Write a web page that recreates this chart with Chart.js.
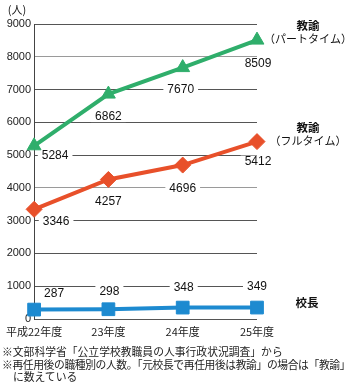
<!DOCTYPE html>
<html lang="ja">
<head>
<meta charset="utf-8">
<script src="https://cdn.jsdelivr.net/npm/chart.js@4/dist/chart.umd.min.js"></script>
<style>
  html, body { margin: 0; padding: 0; background: #fff; }
  #wrap { position: relative; width: 350px; height: 390px; }
  #notes {
    position: absolute; left: 2px; top: 345px; width: 348px;
    font-family: "Noto Sans CJK JP", sans-serif; font-size: 10.8px;
    line-height: 12.5px; color: #222; white-space: nowrap;
  }
  #notes .tight { letter-spacing: -0.4px; }
  #notes .indent { padding-left: 11px; }
</style>
</head>
<body>
<div id="wrap">
  <canvas id="c" width="350" height="390"></canvas>
  <div id="notes">
    <div>※文部科学省「公立学校教職員の人事行政状況調査」から</div>
    <div class="tight">※再任用後の職種別の人数。「元校長で再任用後は教諭」の場合は「教諭」</div>
    <div class="indent">に数えている</div>
  </div>
</div>
<script>
// 年度
const years = ['平成22年度', '23年度', '24年度', '25年度'];
// 教諭（パートタイム）
const partTime = [5284, 6862, 7670, 8509];
// 教諭（フルタイム）
const fullTime = [3346, 4257, 4696, 5412];
// 校長
const principals = [287, 298, 348, 349];
// 縦軸の目盛り
const yTicks = [0, 1000, 2000, 3000, 4000, 5000, 6000, 7000, 8000, 9000];

const LATIN = '"Liberation Sans", Arial, "Noto Sans CJK JP", sans-serif';
const CJK = '"Noto Sans CJK JP", "Liberation Sans", sans-serif';

const GREEN = '#2fae6b';
const ORANGE = '#e8502a';
const BLUE = '#1d8ad0';

// 値ラベルの位置（点からのずれ）と系列名
const labelStyle = [
  { dx: [21, 0, -2, 1], dy: [9, 22, 22, 23], name: ['教諭', '（パートタイム）'] },
  { dx: [22, 0, 0, 1], dy: [12, 22, 23, 20], name: ['教諭', '（フルタイム）'] },
  { dx: [20, 1, 1, 0], dy: [-16, -18, -20, -21], name: ['校長'] }
];

const valueLabels = {
  id: 'valueLabels',
  beforeDatasetsDraw(chart) {
    const ctx = chart.ctx;
    ctx.save();
    ctx.font = '12px ' + LATIN;
    ctx.textAlign = 'center';
    ctx.textBaseline = 'middle';
    chart.data.datasets.forEach((ds, i) => {
      const meta = chart.getDatasetMeta(i);
      const st = labelStyle[i];
      meta.data.forEach((pt, j) => {
        const text = String(ds.data[j]);
        const x = pt.x + st.dx[j];
        const y = pt.y + st.dy[j];
        const w = ctx.measureText(text).width + 8;
        ctx.fillStyle = '#fff';
        ctx.fillRect(x - w / 2, y - 6, w, 12);
        ctx.fillStyle = '#111';
        ctx.fillText(text, x, y + 0.5);
      });
    });
    ctx.restore();
  },
  afterDraw(chart) {
    const ctx = chart.ctx;
    const area = chart.chartArea;
    ctx.save();
    ctx.textAlign = 'center';
    ctx.textBaseline = 'middle';
    ctx.fillStyle = '#111';
    chart.data.datasets.forEach((ds, i) => {
      const meta = chart.getDatasetMeta(i);
      const last = meta.data[meta.data.length - 1];
      const cx = area.right + 51;
      const name = labelStyle[i].name;
      if (name.length === 2) {
        ctx.font = 'bold 11.5px ' + CJK;
        ctx.fillText(name[0], cx, last.y - 14);
        ctx.font = '11px ' + CJK;
        ctx.fillText(name[1], cx, last.y - 1);
      } else {
        ctx.font = 'bold 11.5px ' + CJK;
        ctx.fillText(name[0], area.right + 50, last.y - 5);
      }
    });
    // 単位
    ctx.font = '11px ' + CJK;
    ctx.fillText('(人)', 17, 10);
    ctx.restore();
  }
};

const lineSet = (data, color, style, radius) => ({
  data,
  borderColor: color,
  backgroundColor: color,
  borderWidth: 4,
  pointStyle: style,
  pointRadius: radius,
  pointHoverRadius: radius,
  pointBorderWidth: 1,
  pointBorderColor: color,
  pointBackgroundColor: color,
  tension: 0,
  clip: false
});

new Chart(document.getElementById('c'), {
  type: 'line',
  data: {
    labels: years,
    datasets: [
      lineSet(partTime, GREEN, 'triangle', 8),
      lineSet(fullTime, ORANGE, 'rectRot', 8),
      lineSet(principals, BLUE, 'rect', 9)
    ]
  },
  options: {
    responsive: false,
    animation: false,
    events: [],
    layout: { padding: { top: 24, right: 93, left: 0, bottom: 0 } },
    plugins: { legend: { display: false }, tooltip: { enabled: false } },
    scales: {
      x: {
        offset: false,
        grid: { display: false, drawTicks: false },
        border: { display: false },
        ticks: {
          font: { family: CJK, size: 11 },
          color: '#222',
          padding: 6,
          maxRotation: 0,
          autoSkip: false
        },
        afterFit(s) { s.height = 71; }
      },
      y: {
        min: yTicks[0],
        max: yTicks[yTicks.length - 1],
        afterBuildTicks(s) { s.ticks = yTicks.map(v => ({ value: v })); },
        ticks: {
          font: { family: LATIN, size: 11 },
          color: '#222',
          padding: 3,
          callback: v => String(v)
        },
        grid: {
          drawTicks: false,
          lineWidth: 1,
          color: c => (c.tick && (c.tick.value === 8000 || c.tick.value === 4000)) ? '#9a9a9a' : '#555'
        },
        border: { display: true, color: '#444', width: 1 },
        afterFit(s) { s.width = 30; }
      }
    }
  },
  plugins: [valueLabels]
});
</script>
</body>
</html>
